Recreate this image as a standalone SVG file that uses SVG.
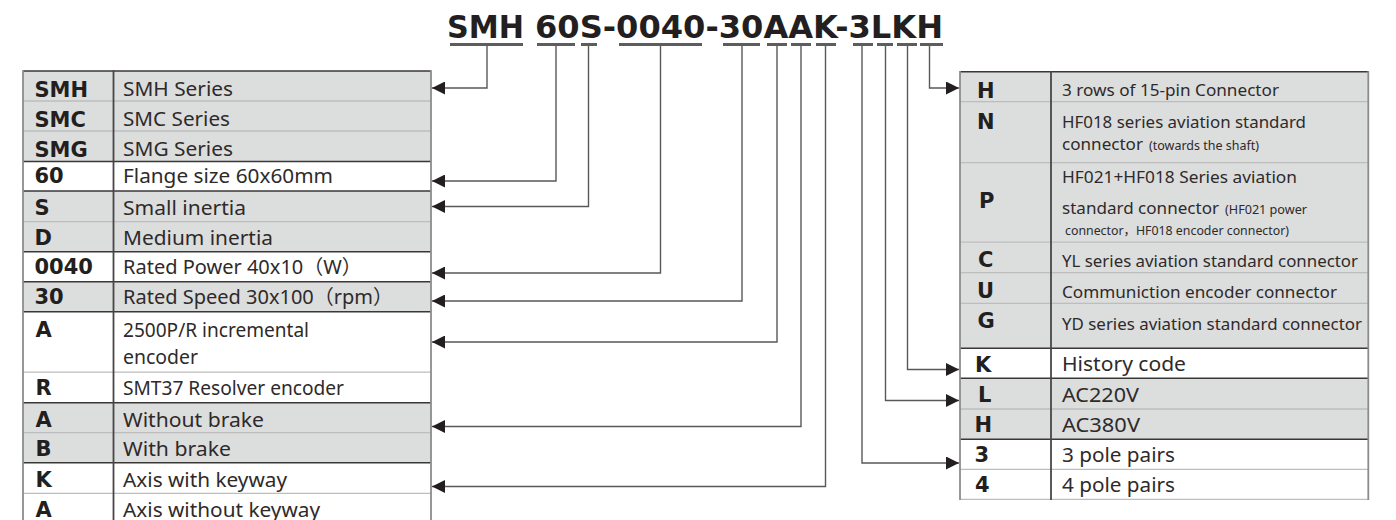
<svg xmlns="http://www.w3.org/2000/svg" width="1396" height="520" viewBox="0 0 1396 520">
<defs>
<style>
.title{font-family:"DejaVu Sans","Liberation Sans",sans-serif;font-weight:bold;font-size:32px;fill:#231f20}
.code{font-family:"DejaVu Sans","Liberation Sans",sans-serif;font-weight:bold;font-size:21px;fill:#231f20}
.d{font-family:"Noto Sans","Noto Sans CJK SC",sans-serif;font-size:20px;fill:#2e2a2a}
.n{font-size:17px}
.s{font-size:12.3px}
.g{fill:#dcdddd}
.w{fill:#ffffff}
.dk{stroke:#3a3737;stroke-width:1.6}
.lt{stroke:#bdbdbd;stroke-width:1.3}
.edge{stroke:#8c8c8c;stroke-width:1.8}
.div{stroke:#4a4646;stroke-width:1.8}
.bar{fill:#5d5d5d}
.conn{fill:none;stroke:#5a5858;stroke-width:1.4}
</style>
<marker id="ah" markerUnits="userSpaceOnUse" markerWidth="14" markerHeight="13" refX="13" refY="6.5" orient="auto">
<path d="M0,0 L13,6.5 L0,13 Z" fill="#231f20"/>
</marker>
</defs>
<rect width="1396" height="520" fill="#ffffff"/>

<g id="title">
<text class="title" x="447" y="38.3" textLength="77" lengthAdjust="spacingAndGlyphs">SMH</text>
<text class="title" x="535" y="38.3" textLength="408" lengthAdjust="spacingAndGlyphs">60S-0040-30AAK-3LKH</text>
<rect class="bar" x="450" y="43" width="73" height="3"/>
<rect class="bar" x="537" y="43" width="38" height="3"/>
<rect class="bar" x="581" y="43" width="16" height="3"/>
<rect class="bar" x="619" y="43" width="83" height="3"/>
<rect class="bar" x="723" y="43" width="37" height="3"/>
<rect class="bar" x="767" y="43" width="20" height="3"/>
<rect class="bar" x="791" y="43" width="20" height="3"/>
<rect class="bar" x="816" y="43" width="20" height="3"/>
<rect class="bar" x="853" y="43" width="20" height="3"/>
<rect class="bar" x="877" y="43" width="16" height="3"/>
<rect class="bar" x="897" y="43" width="20" height="3"/>
<rect class="bar" x="920" y="43" width="23" height="3"/>
</g>

<g id="left-table">
<g id="row-SMH"><rect class="g" x="23" y="71" width="408" height="30"/><text class="code" x="34.5" y="96.7">SMH</text><text class="d" x="123" y="95.7" textLength="110" lengthAdjust="spacingAndGlyphs">SMH Series</text></g>
<g id="row-SMC"><rect class="g" x="23" y="101" width="408" height="30"/><text class="code" x="34.5" y="126.7">SMC</text><text class="d" x="123" y="125.7" textLength="107" lengthAdjust="spacingAndGlyphs">SMC Series</text></g>
<g id="row-SMG"><rect class="g" x="23" y="131" width="408" height="30.5"/><text class="code" x="34.5" y="156.7">SMG</text><text class="d" x="123" y="155.7" textLength="110" lengthAdjust="spacingAndGlyphs">SMG Series</text></g>
<g id="row-60"><rect class="w" x="23" y="161.5" width="408" height="29.5"/><text class="code" x="34.5" y="183.3">60</text><text class="d" x="123" y="183.3" textLength="210" lengthAdjust="spacingAndGlyphs">Flange size 60x60mm</text></g>
<g id="row-S"><rect class="g" x="23" y="191" width="408" height="30.7"/><text class="code" x="34.5" y="215">S</text><text class="d" x="123" y="214.5" textLength="123" lengthAdjust="spacingAndGlyphs">Small inertia</text></g>
<g id="row-D"><rect class="g" x="23" y="221.7" width="408" height="30"/><text class="code" x="34.5" y="245">D</text><text class="d" x="123" y="245" textLength="150" lengthAdjust="spacingAndGlyphs">Medium inertia</text></g>
<g id="row-0040"><rect class="w" x="23" y="251.7" width="408" height="30"/><text class="code" x="34.5" y="274.3">0040</text><text class="d" x="123" y="274.3">Rated Power 40x10（W）</text></g>
<g id="row-30"><rect class="g" x="23" y="281.7" width="408" height="30"/><text class="code" x="34.5" y="304.3">30</text><text class="d" x="123" y="304.3">Rated Speed 30x100（rpm）</text></g>
<g id="row-A-enc"><rect class="w" x="23" y="311.7" width="408" height="60.5"/><text class="code" x="35.5" y="336.7">A</text><text class="d" x="123" y="336.7" textLength="186" lengthAdjust="spacingAndGlyphs">2500P/R incremental</text><text class="d" x="123" y="364" textLength="75" lengthAdjust="spacingAndGlyphs">encoder</text></g>
<g id="row-R"><rect class="w" x="23" y="372.2" width="408" height="30.5"/><text class="code" x="35.5" y="395">R</text><text class="d" x="123" y="395" textLength="221" lengthAdjust="spacingAndGlyphs">SMT37 Resolver encoder</text></g>
<g id="row-A-brake"><rect class="g" x="23" y="402.7" width="408" height="30"/><text class="code" x="35.5" y="426.7">A</text><text class="d" x="123" y="426.7" textLength="141" lengthAdjust="spacingAndGlyphs">Without brake</text></g>
<g id="row-B"><rect class="g" x="23" y="432.7" width="408" height="30"/><text class="code" x="35.5" y="456">B</text><text class="d" x="123" y="456" textLength="108" lengthAdjust="spacingAndGlyphs">With brake</text></g>
<g id="row-K"><rect class="w" x="23" y="462.7" width="408" height="30.6"/><text class="code" x="35.5" y="486.7">K</text><text class="d" x="123" y="486.7" textLength="164" lengthAdjust="spacingAndGlyphs">Axis with keyway</text></g>
<g id="row-A-key"><rect class="w" x="23" y="493.3" width="408" height="30.2"/><text class="code" x="35.5" y="516.7">A</text><text class="d" x="123" y="516.7" textLength="197" lengthAdjust="spacingAndGlyphs">Axis without keyway</text></g>
<g id="left-grid">
<line class="lt" x1="23" y1="101" x2="431" y2="101"/>
<line class="lt" x1="23" y1="131" x2="431" y2="131"/>
<line class="lt" x1="23" y1="221.7" x2="431" y2="221.7"/>
<line class="lt" x1="23" y1="372.2" x2="431" y2="372.2"/>
<line class="lt" x1="23" y1="432.7" x2="431" y2="432.7"/>
<line class="lt" x1="23" y1="493.3" x2="431" y2="493.3"/>
<line class="dk" x1="23" y1="71" x2="431" y2="71"/>
<line class="dk" x1="23" y1="161.5" x2="431" y2="161.5"/>
<line class="dk" x1="23" y1="191" x2="431" y2="191"/>
<line class="dk" x1="23" y1="251.7" x2="431" y2="251.7"/>
<line class="dk" x1="23" y1="281.7" x2="431" y2="281.7"/>
<line class="dk" x1="23" y1="311.7" x2="431" y2="311.7"/>
<line class="dk" x1="23" y1="402.7" x2="431" y2="402.7"/>
<line class="dk" x1="23" y1="462.7" x2="431" y2="462.7"/>
<line class="edge" x1="23" y1="70.2" x2="23" y2="524"/>
<line class="div" x1="113.5" y1="70.2" x2="113.5" y2="524"/>
<line class="edge" x1="431" y1="70.2" x2="431" y2="524"/>
</g>
</g>

<g id="right-table">
<g id="row-H-conn"><rect class="g" x="960" y="71.7" width="408.3" height="30"/><text class="code" x="977" y="98.3">H</text><text class="d n" x="1062" y="95.7" textLength="217" lengthAdjust="spacingAndGlyphs">3 rows of 15-pin Connector</text></g>
<g id="row-N"><rect class="g" x="960" y="101.7" width="408.3" height="61"/><text class="code" x="977" y="129">N</text><text class="d n" x="1062" y="128.3" textLength="244" lengthAdjust="spacingAndGlyphs">HF018 series aviation standard</text><text class="d n" x="1062" y="150.3" textLength="81" lengthAdjust="spacingAndGlyphs">connector</text><text class="d s" x="1149" y="149.5" textLength="110" lengthAdjust="spacingAndGlyphs">(towards the shaft)</text></g>
<g id="row-P"><rect class="g" x="960" y="162.7" width="408.3" height="79.5"/><text class="code" x="979" y="208.3">P</text><text class="d n" x="1062" y="183.3" textLength="235" lengthAdjust="spacingAndGlyphs">HF021+HF018 Series aviation</text><text class="d n" x="1062" y="214.3" textLength="157" lengthAdjust="spacingAndGlyphs">standard connector</text><text class="d s" x="1225" y="214" textLength="82" lengthAdjust="spacingAndGlyphs">(HF021 power</text><text class="d s" x="1065" y="235" textLength="224" lengthAdjust="spacingAndGlyphs">connector，HF018 encoder connector)</text></g>
<g id="row-C"><rect class="g" x="960" y="242.2" width="408.3" height="30.5"/><text class="code" x="978" y="266.7">C</text><text class="d n" x="1062" y="266.7" textLength="296" lengthAdjust="spacingAndGlyphs">YL series aviation standard connector</text></g>
<g id="row-U"><rect class="g" x="960" y="272.7" width="408.3" height="30.6"/><text class="code" x="977" y="298.3">U</text><text class="d n" x="1062" y="298.3" textLength="275" lengthAdjust="spacingAndGlyphs">Communiction encoder connector</text></g>
<g id="row-G"><rect class="g" x="960" y="303.3" width="408.3" height="45"/><text class="code" x="977.5" y="328.3">G</text><text class="d n" x="1062" y="330" textLength="300" lengthAdjust="spacingAndGlyphs">YD series aviation standard connector</text></g>
<g id="row-K-hist"><rect class="w" x="960" y="348.3" width="408.3" height="30"/><text class="code" x="975" y="371.7">K</text><text class="d" x="1062" y="371" textLength="124" lengthAdjust="spacingAndGlyphs">History code</text></g>
<g id="row-L"><rect class="g" x="960" y="378.3" width="408.3" height="30.7"/><text class="code" x="978" y="401.7">L</text><text class="d" x="1062" y="401.7" textLength="77" lengthAdjust="spacingAndGlyphs">AC220V</text></g>
<g id="row-H-volt"><rect class="g" x="960" y="409" width="408.3" height="30.3"/><text class="code" x="974.5" y="431.7">H</text><text class="d" x="1062" y="431.7" textLength="78" lengthAdjust="spacingAndGlyphs">AC380V</text></g>
<g id="row-3"><rect class="w" x="960" y="439.3" width="408.3" height="30"/><text class="code" x="974.5" y="461.7">3</text><text class="d" x="1062" y="461.7" textLength="113" lengthAdjust="spacingAndGlyphs">3 pole pairs</text></g>
<g id="row-4"><rect class="w" x="960" y="469.3" width="408.3" height="30"/><text class="code" x="975" y="491.7">4</text><text class="d" x="1062" y="491.7" textLength="113" lengthAdjust="spacingAndGlyphs">4 pole pairs</text></g>
<g id="right-grid">
<line class="lt" x1="960" y1="101.7" x2="1368.3" y2="101.7"/>
<line class="lt" x1="960" y1="162.7" x2="1368.3" y2="162.7"/>
<line class="lt" x1="960" y1="242.2" x2="1368.3" y2="242.2"/>
<line class="lt" x1="960" y1="272.7" x2="1368.3" y2="272.7"/>
<line class="lt" x1="960" y1="303.3" x2="1368.3" y2="303.3"/>
<line class="lt" x1="960" y1="409" x2="1368.3" y2="409"/>
<line class="lt" x1="960" y1="469.3" x2="1368.3" y2="469.3"/>
<line class="lt" x1="960" y1="499.3" x2="1368.3" y2="499.3"/>
<line class="dk" x1="960" y1="71.7" x2="1368.3" y2="71.7"/>
<line class="dk" x1="960" y1="348.3" x2="1368.3" y2="348.3"/>
<line class="dk" x1="960" y1="378.3" x2="1368.3" y2="378.3"/>
<line class="dk" x1="960" y1="439.3" x2="1368.3" y2="439.3"/>
<line class="edge" x1="960" y1="70.9" x2="960" y2="500"/>
<line class="div" x1="1051" y1="70.9" x2="1051" y2="500"/>
<line class="edge" x1="1368.3" y1="70.9" x2="1368.3" y2="500"/>
</g>
</g>

<g id="connectors">
<path class="conn" d="M487,46 V88 H432" marker-end="url(#ah)"/>
<path class="conn" d="M556,46 V181 H432" marker-end="url(#ah)"/>
<path class="conn" d="M588.5,46 V206.5 H432" marker-end="url(#ah)"/>
<path class="conn" d="M660.5,46 V273 H432" marker-end="url(#ah)"/>
<path class="conn" d="M742,46 V301 H432" marker-end="url(#ah)"/>
<path class="conn" d="M777,46 V342 H432" marker-end="url(#ah)"/>
<path class="conn" d="M801,46 V426.5 H432" marker-end="url(#ah)"/>
<path class="conn" d="M825.5,46 V486.5 H432" marker-end="url(#ah)"/>
<path class="conn" d="M929.5,46 V88 H959" marker-end="url(#ah)"/>
<path class="conn" d="M907.5,46 V369.5 H959" marker-end="url(#ah)"/>
<path class="conn" d="M885.5,46 V400.5 H959" marker-end="url(#ah)"/>
<path class="conn" d="M862,46 V463 H959" marker-end="url(#ah)"/>
</g>
</svg>
